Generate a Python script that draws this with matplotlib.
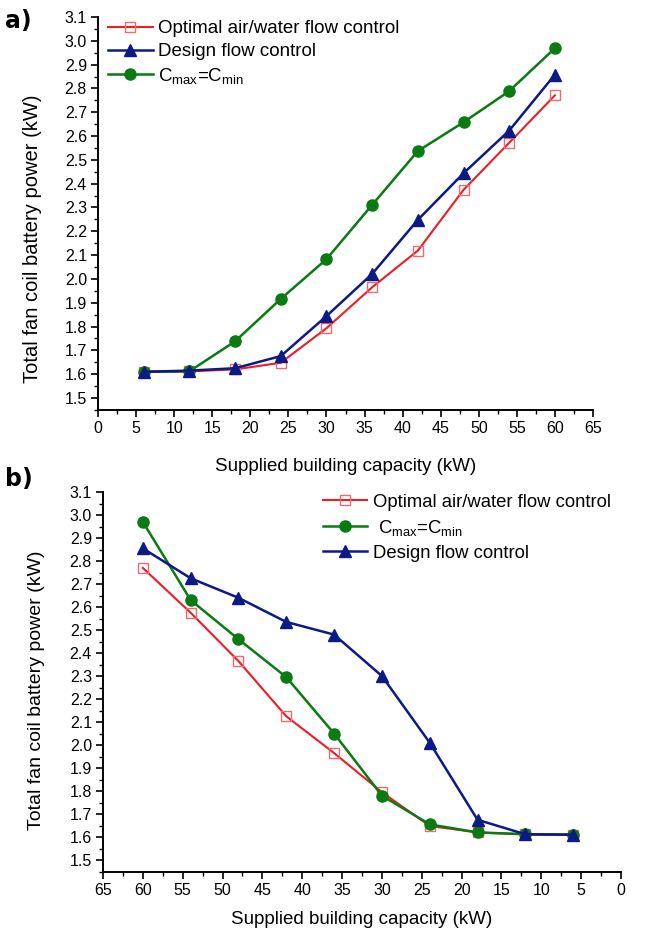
import matplotlib
matplotlib.use('Agg')
import matplotlib.pyplot as plt
from matplotlib.ticker import MultipleLocator

plt.rcParams['font.family'] = ['Liberation Sans', 'DejaVu Sans']
plt.rcParams['mathtext.fontset'] = 'custom'
plt.rcParams['mathtext.rm'] = 'Liberation Sans'
plt.rcParams['mathtext.it'] = 'Liberation Sans'

# supplied building capacity (kW)
capacity = [6, 12, 18, 24, 30, 36, 42, 48, 54, 60]

# a) fan coil battery power (kW)
optimal_a = [1.610, 1.612, 1.620, 1.648, 1.793, 1.965, 2.119, 2.374, 2.572, 2.771]
design_a = [1.610, 1.615, 1.625, 1.676, 1.844, 2.021, 2.248, 2.444, 2.623, 2.858]
cmaxmin_a = [1.610, 1.612, 1.738, 1.916, 2.083, 2.311, 2.537, 2.658, 2.789, 2.969]

# b) fan coil battery power (kW)
optimal_b = [1.610, 1.612, 1.620, 1.648, 1.795, 1.965, 2.125, 2.365, 2.575, 2.770]
cmaxmin_b = [1.610, 1.612, 1.620, 1.655, 1.780, 2.050, 2.295, 2.460, 2.630, 2.970]
design_b = [1.610, 1.612, 1.675, 2.010, 2.300, 2.480, 2.535, 2.640, 2.725, 2.855]

RED = '#ee1c24'
BLUE = '#0c1a86'
GREEN = '#0a7a12'
CMAX = r'C$_{\mathregular{max}}$=C$_{\mathregular{min}}$'

fig = plt.figure(figsize=(6.56, 9.32), dpi=100)
ax1 = fig.add_axes([98/656, 1-410/932, 495/656, 393/932])
ax2 = fig.add_axes([103/656, 1-872/932, 518/656, 380/932])


def draw(ax, opt, des, cmm):
    ax.plot(capacity, opt, color=RED, lw=1.5, marker='s', ms=7.5, mfc='none',
            mec='#f26a6e', mew=1.0, zorder=3, label='Optimal air/water flow control')
    ax.plot(capacity, cmm, color=GREEN, lw=1.8, marker='o', ms=8, zorder=4,
            label=CMAX)
    ax.plot(capacity, des, color=BLUE, lw=1.8, marker='^', ms=8.5, zorder=5,
            label='Design flow control')


def style(ax, ymin):
    ax.set_ylim(ymin, 3.1)
    ax.yaxis.set_major_locator(MultipleLocator(0.1))
    ax.yaxis.set_minor_locator(MultipleLocator(0.05))
    ax.xaxis.set_major_locator(MultipleLocator(5))
    ax.xaxis.set_minor_locator(MultipleLocator(2.5))
    ax.yaxis.set_major_formatter(plt.FormatStrFormatter('%.1f'))
    for s in ('top', 'right'):
        ax.spines[s].set_visible(False)
    for s in ('left', 'bottom'):
        ax.spines[s].set_linewidth(1.4)
    ax.tick_params(which='major', length=5, width=1.2, labelsize=11.5, pad=3)
    ax.tick_params(which='minor', length=3, width=1.0)


draw(ax1, optimal_a, design_a, cmaxmin_a)
style(ax1, 1.4496)
ax1.set_xlim(0, 65)
ax1.set_xlabel('Supplied building capacity (kW)', fontsize=13.5, labelpad=16)
ax1.set_ylabel('Total fan coil battery power (kW)', fontsize=14.5)
ax1.yaxis.set_label_coords(-0.113, 0.435)
h, l = ax1.get_legend_handles_labels()
ax1.legend([h[0], h[2], h[1]], [l[0], l[2], l[1]], loc='upper left',
           bbox_to_anchor=(0.02, 0.992), frameon=False, fontsize=13.5,
           handlelength=2.4, handletextpad=0.28, labelspacing=0.31,
           borderpad=0, borderaxespad=0)

draw(ax2, optimal_b, design_b, cmaxmin_b)
style(ax2, 1.448)
ax2.set_xlim(65, 0)
ax2.set_xlabel('Supplied building capacity (kW)', fontsize=13.5, labelpad=9)
ax2.set_ylabel('Total fan coil battery power (kW)', fontsize=14)
ax2.yaxis.set_label_coords(-0.112, 0.479)
h, l = ax2.get_legend_handles_labels()
l[1] = ' ' + l[1]
ax2.legend(h, l, loc='upper left', bbox_to_anchor=(0.425, 0.996),
           frameon=False, fontsize=13.3, handlelength=2.4, handletextpad=0.28,
           labelspacing=0.38, borderpad=0, borderaxespad=0)

fig.text(0.008, 0.99, 'a)', fontsize=17, fontweight='bold',
         family='DejaVu Sans', va='top')
fig.text(0.008, 0.499, 'b)', fontsize=17, fontweight='bold',
         family='DejaVu Sans', va='top')

fig.savefig('out.png', dpi=100)
